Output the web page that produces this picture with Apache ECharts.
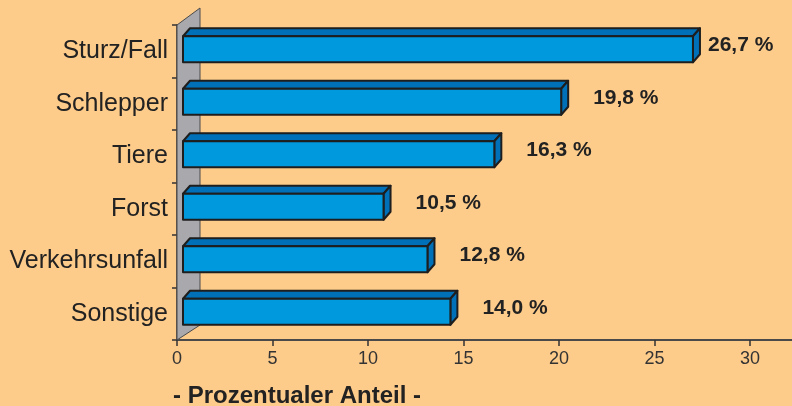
<!doctype html>
<html>
<head>
<meta charset="utf-8">
<title>Prozentualer Anteil</title>
<script src="https://cdn.jsdelivr.net/npm/echarts@6/dist/echarts.min.js"></script>
</head>
<body style="margin:0;background:#fdcb8a;">
<div id="container" style="width:792px;height:406px;"></div>
<script type="text/javascript">
    // Kategorien und Werte (Prozent)
    var categories = ['Sturz/Fall', 'Schlepper', 'Tiere', 'Forst', 'Verkehrsunfall', 'Sonstige'];
    var values = [26.7, 19.8, 16.3, 10.5, 12.8, 14.0];
    var xTicks = [0, 5, 10, 15, 20, 25, 30];

    var barData = values.map(function (v, i) { return [v, i]; });
    var FONT = '"Liberation Sans", Arial, sans-serif';

    // grauer "3D"-Hintergrund links
    function renderWall(params, api) {
        var b = api.coord([0, 0]);
        var top = params.coordSys.y;
        var bottom = top + params.coordSys.height;
        var x0 = b[0];
        return {
            type: 'polygon',
            silent: true,
            shape: { points: [[x0, top], [x0 + 23, top - 17], [x0 + 23, bottom - 15], [x0, bottom]] },
            style: { fill: '#a9a9ad', stroke: '#4a4a4a', lineWidth: 1 }
        };
    }

    function renderBar(params, api) {
        var v = api.value(0);
        var idx = api.value(1);
        var p0 = api.coord([0, idx]);
        var p1 = api.coord([v, idx]);
        var h = 26, dx = 7, dy = -8;
        var cy = p0[1] - 2;
        var x0 = p0[0] + 6, x1 = p1[0] + 6;
        var y0 = cy - h / 2, y1 = cy + h / 2;
        var line = { stroke: '#1e1e1e', lineWidth: 2, lineJoin: 'round' };
        var label = String(v.toFixed(1)).replace('.', ',') + ' %';
        return {
            type: 'group',
            children: [
                { type: 'polygon', shape: { points: [[x0, y0], [x0 + dx, y0 + dy], [x1 + dx, y0 + dy], [x1, y0]] },
                  style: Object.assign({ fill: '#0070b8' }, line) },
                { type: 'polygon', shape: { points: [[x1, y0], [x1 + dx, y0 + dy], [x1 + dx, y1 + dy], [x1, y1]] },
                  style: Object.assign({ fill: '#0070b8' }, line) },
                { type: 'rect', shape: { x: x0, y: y0, width: x1 - x0, height: h },
                  style: Object.assign({ fill: '#0099dd' }, line) },
                { type: 'text', x: Math.min(p1[0] + 38, api.getWidth() - 84), y: cy - 4,
                  style: { text: label, fill: '#222', font: 'bold 21px ' + FONT,
                           textAlign: 'left', textVerticalAlign: 'middle' } }
            ]
        };
    }

    var option = {
        backgroundColor: '#fdcb8a',
        animation: false,
        title: {
            text: '- Prozentualer Anteil -',
            left: 168, top: 379,
            textStyle: { fontFamily: FONT, fontSize: 24, fontWeight: 'bold', color: '#222' }
        },
        grid: { left: 177, right: 0, top: 25, bottom: 66 },
        xAxis: {
            type: 'value',
            min: 0,
            max: 32.2,
            interval: 5,
            splitLine: { show: false },
            axisLine: { show: true, lineStyle: { color: '#4a4a4a', width: 2 } },
            axisTick: { show: true, length: 6, customValues: xTicks, lineStyle: { color: '#333', width: 1.5 } },
            axisLabel: {
                margin: 10,
                fontSize: 18,
                color: '#333',
                fontFamily: FONT,
                customValues: xTicks
            }
        },
        yAxis: {
            type: 'category',
            inverse: true,
            data: categories,
            axisLine: { show: true, lineStyle: { color: '#333', width: 1.5 } },
            axisTick: { show: true, length: 5, lineStyle: { color: '#333', width: 1.5 } },
            axisLabel: { margin: 9, fontSize: 25, color: '#222', fontFamily: FONT }
        },
        series: [
            { type: 'custom', renderItem: renderWall, data: [[0, 0]], z: 1, silent: true },
            { type: 'custom', renderItem: renderBar, data: barData, z: 3 }
        ]
    };

    var myChart = echarts.init(document.getElementById('container'));
    myChart.setOption(option);
</script>
</body>
</html>
